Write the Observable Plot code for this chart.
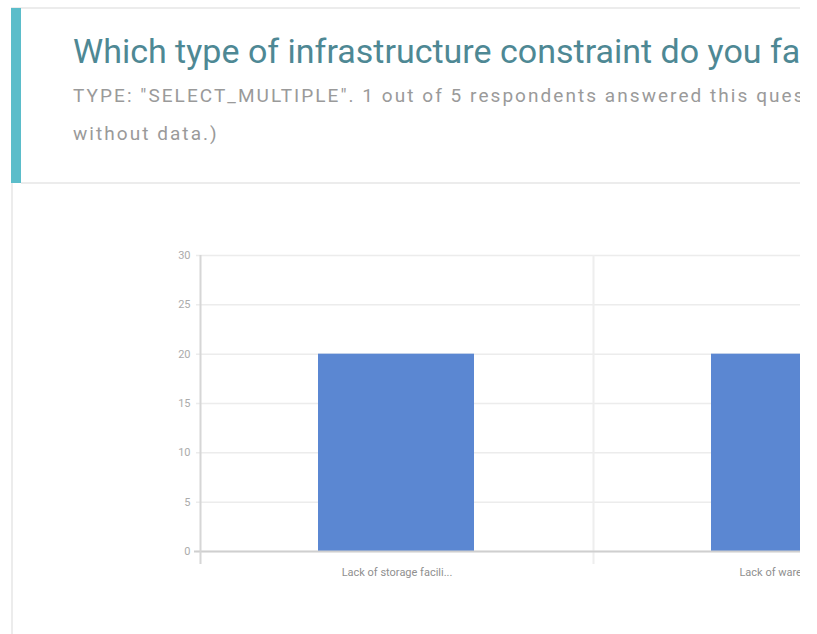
<!DOCTYPE html>
<html>
<head>
<meta charset="utf-8">
<script src="https://cdn.jsdelivr.net/npm/d3@7"></script>
<script src="https://cdn.jsdelivr.net/npm/@observablehq/plot@0.6"></script>
<style>
  html, body { margin: 0; padding: 0; background: #fff; width: 817px; height: 634px; overflow: hidden; }
  #clip { position: absolute; left: 0; top: 0; width: 800px; height: 634px; overflow: hidden; }
  .line { position: absolute; background: #ececec; }
  #teal { position: absolute; left: 11px; top: 8px; width: 10px; height: 175px; background: #5bbdca; }
  #title { position: absolute; left: 73px; top: 29px; white-space: nowrap; font-family: Roboto, sans-serif; font-size: 34px; color: #4e8894; line-height: 44px; }
  #subtitle { position: absolute; left: 73px; top: 77px; white-space: nowrap; font-family: Roboto, sans-serif; font-size: 19px; letter-spacing: 2.05px; color: #9a9a9a; line-height: 38px; }
  #chart { position: absolute; left: 0; top: 184px; }
  #chart svg { max-width: none !important; }
</style>
</head>
<body>
<div id="clip">
  <div class="line" style="left:11px;top:7px;width:789px;height:2px;"></div>
  <div id="teal"></div>
  <div class="line" style="left:21px;top:182px;width:779px;height:2px;"></div>
  <div class="line" style="left:11px;top:183px;width:2px;height:451px;"></div>
  <div id="title"></div>
  <div id="subtitle"></div>
  <div id="chart"></div>
</div>
<script>
const titleText = "Which type of infrastructure constraint do you face?";
const subtitleLines = ["TYPE: \"SELECT_MULTIPLE\". 1 out of 5 respondents answered this question. (4 were", "without data.)"];
const categories = ["Lack of storage facili...", "Lack of warehouse..."];
const values = [20, 20];
const yTicks = [0, 5, 10, 15, 20, 25, 30];

document.getElementById("title").textContent = titleText;
const sub = document.getElementById("subtitle");
subtitleLines.forEach(l => { const d = document.createElement("div"); d.textContent = l; sub.appendChild(d); });

const data = categories.map((c, i) => ({category: c, value: values[i]}));

const W = 986, ML = 200, MR = 0;
const step = (W - ML - MR) / categories.length;

const chart = Plot.plot({
  width: W,
  height: 450,
  marginLeft: ML,
  marginRight: MR,
  marginTop: 71,
  marginBottom: 83,
  style: {background: "transparent", fontFamily: "Roboto, sans-serif", overflow: "visible", maxWidth: "none"},
  x: {domain: categories, padding: 0, axis: null},
  y: {domain: [0, 30], axis: null},
  marks: [
    Plot.ruleY(yTicks, {y: d => d, stroke: "#ececec", strokeWidth: 1.5, insetLeft: -4}),
    Plot.ruleX(categories.slice(1), {x: d => d, dx: -step / 2, y1: 30, y2: 0, insetBottom: -13, stroke: "#eeeeee", strokeWidth: 2}),
    Plot.barY(data, {x: "category", y: "value", fill: "#5b87d2", insetLeft: 118, insetRight: 119}),
    Plot.ruleY([0], {stroke: "#cfcfcf", strokeWidth: 2, insetLeft: -6}),
    Plot.ruleX(categories.slice(0, 1), {x: d => d, dx: -step / 2, y1: 30, y2: 0, insetBottom: -13, stroke: "#d6d6d6", strokeWidth: 2}),
    Plot.text(yTicks, {y: d => d, frameAnchor: "left", dx: -10, textAnchor: "end", fontSize: 11, fill: "#ababab", text: d => String(d)}),
    Plot.text(categories, {x: d => d, y: 0, dy: 21, fontSize: 11, fill: "#8f8f8f", text: d => d, letterSpacing: "0.7px"})
  ]
});
chart.style.maxWidth = "none";
chart.style.width = W + "px";
chart.style.height = "450px";
document.getElementById("chart").appendChild(chart);
</script>
</body>
</html>
